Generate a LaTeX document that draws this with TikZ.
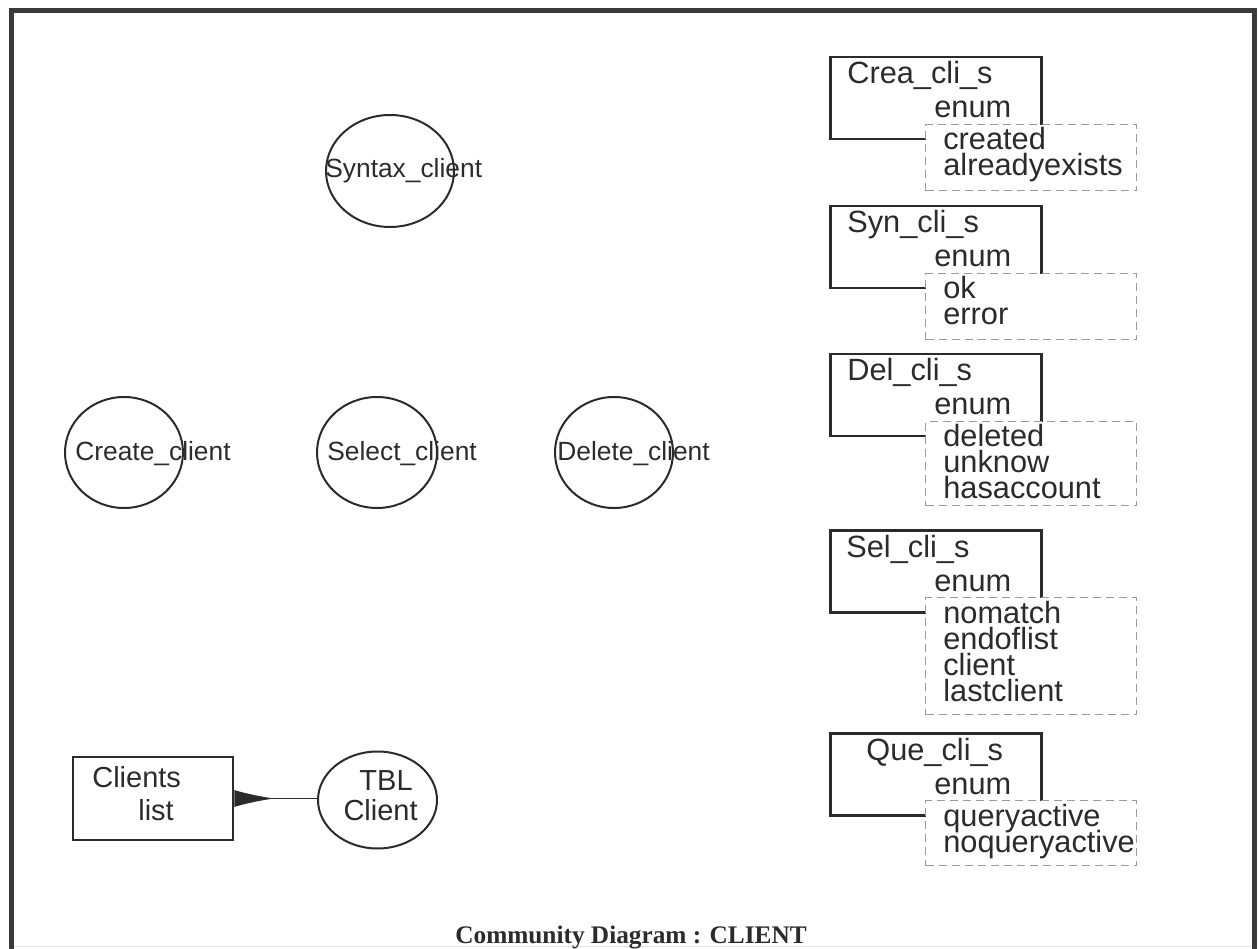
\documentclass[tikz,border=0pt]{standalone}
\usepackage{fontspec}
\setmainfont{Liberation Sans}
\newfontfamily\serifface{Liberation Serif}
\usetikzlibrary{shapes.geometric,arrows.meta}

% one drawing unit
\newlength\pxu
\setlength\pxu{0.02cm}

\definecolor{ink}{HTML}{2B2B2B}
\definecolor{framegray}{HTML}{3A3A3A}
\definecolor{dashgray}{HTML}{9A9A9A}

\tikzset{
  frameline/.style={draw=framegray, line width=5\pxu},
  proc/.style={ellipse, draw=ink, line width=2\pxu, inner sep=0pt},
  proclabel/.style={anchor=base west, inner sep=0pt, text=ink,
    font=\fontsize{15}{17}\selectfont},
  storebox/.style={rectangle, draw=ink, line width=2.5\pxu, inner sep=0pt},
  storelabel/.style={inner sep=0pt, text=ink,
    font=\fontsize{16.5}{19}\selectfont},
  typebox/.style={rectangle, draw=ink, line width=2.5\pxu, anchor=north west,
    inner sep=0pt, minimum width=211\pxu, minimum height=82\pxu},
  valbox/.style={rectangle, draw=dashgray, dash pattern=on 8\pxu off 5\pxu,
    line width=1.3\pxu, fill=white, anchor=north west, inner sep=0pt,
    minimum width=211\pxu},
  typetext/.style={anchor=base west, inner sep=0pt, text=ink,
    font=\fontsize{17.5}{20}\selectfont},
  link/.style={draw=ink, line width=1.6\pxu,
    {Latex[reversed, length=0.8cm, width=0.34cm]}-},
  titletext/.style={anchor=base west, inner sep=0pt, text=ink,
    font=\serifface\bfseries\fontsize{14.4}{17}\selectfont},
}

% enumerated type: #1 id, #2 top edge, #3 type name, #4 x offset of the name,
% #5 list of values, #6 height of the value box
\newcommand\enumtype[6]{%
  \node[typebox] (#1) at (829,#2) {};
  \node[typetext] (#1-name) at ([shift={(#4,28)}]#1.north west) {#3};
  \node[typetext] (#1-kind) at ([shift={(105,62)}]#1.north west) {enum};
  \node[valbox, minimum height=#6\pxu] (#1-vals) at ([shift={(96,68)}]#1.north west) {};
  \foreach \v [count=\i] in {#5}
    \node[typetext] (#1-v\i) at ([shift={(18,26*\i)}]#1-vals.north west) {\v};
}

\begin{document}
\begin{tikzpicture}[x=\pxu, y=-\pxu]
\useasboundingbox (0,0) rectangle (1258,949);

% outer frame
\draw[frameline] (11,949) -- (11,10.5) -- (1254,10.5) -- (1254,949);
\draw[draw=black!12, line width=1\pxu] (14,946) -- (1251,946);

% processes
\node[proc, minimum width=128\pxu, minimum height=112\pxu] (syntax) at (390,171) {};
\node[proclabel] (syntax-l) at (325,178) {Syntax\_client};

\node[proc, minimum width=118\pxu, minimum height=111\pxu] (create) at (124,452.5) {};
\node[proclabel] (create-l) at (75,460) {Create\_client};

\node[proc, minimum width=120\pxu, minimum height=111\pxu] (select) at (377,452.5) {};
\node[proclabel] (select-l) at (327,460) {Select\_client};

\node[proc, minimum width=118\pxu, minimum height=111\pxu] (delete) at (614,452.5) {};
\node[proclabel] (delete-l) at (557,460) {Delete\_client};

% table and its store
\node[proc, minimum width=119\pxu, minimum height=97\pxu] (tbl) at (377.5,800) {};
\node[storelabel, anchor=base east] (tbl-l1) at (413,790) {TBL};
\node[storelabel, anchor=base east] (tbl-l2) at (418,820) {Client};

\node[storebox, minimum width=160\pxu, minimum height=83\pxu] (clients) at (153,798.5) {};
\node[storelabel, anchor=base west] (clients-l1) at (92,787) {Clients};
\node[storelabel, anchor=base west] (clients-l2) at (138,820) {list};

\draw[link] (clients.east) -- (clients.east -| tbl.west);

% result types
\enumtype{crea}{56}{Crea\_cli\_s}{18}{created,alreadyexists}{66}
\enumtype{syn}{205}{Syn\_cli\_s}{18}{ok,error}{66}
\enumtype{del}{353}{Del\_cli\_s}{18}{deleted,unknow,hasaccount}{84}
\enumtype{sel}{529}{Sel\_cli\_s}{17}{nomatch,endoflist,client,lastclient}{117}
\enumtype{que}{732}{Que\_cli\_s}{37}{queryactive,noqueryactive}{65}

% caption
\node[titletext] (title) at (455,943) {Community Diagram : CLIENT};
\end{tikzpicture}
\end{document}
